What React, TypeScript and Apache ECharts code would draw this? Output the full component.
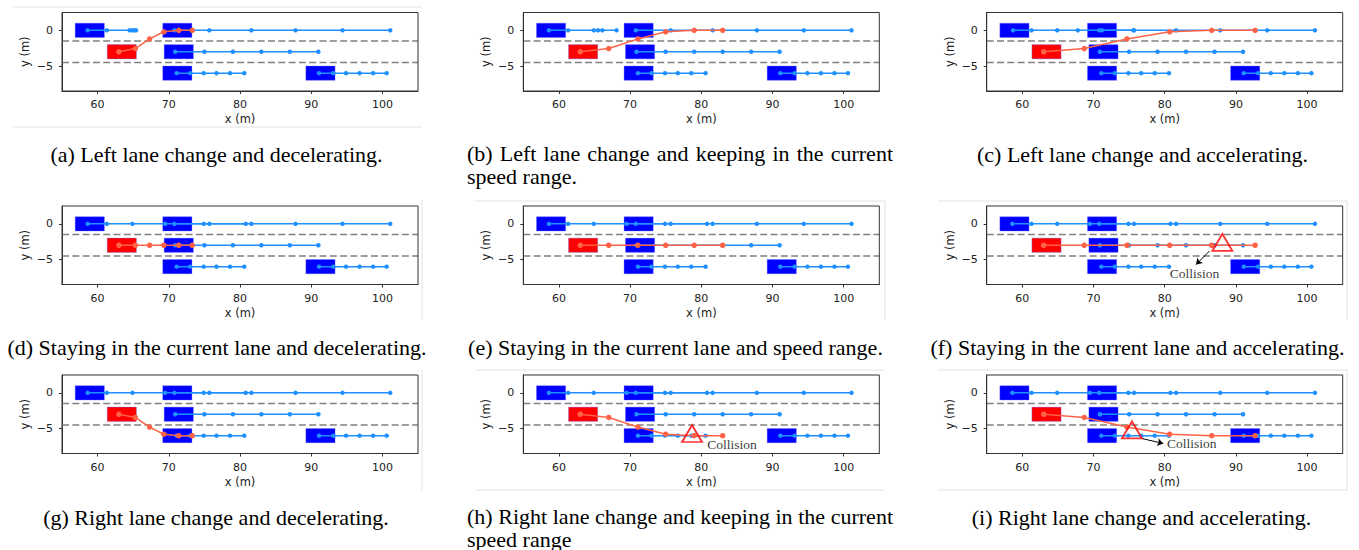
import React, { useEffect, useRef } from 'react';
import * as echarts from 'echarts';

// ---------- data ----------
const X_TICKS = [60, 70, 80, 90, 100];
const Y_TICKS = [0, -5];
const X_RANGE = [55, 105];
const Y_RANGE = [-8.5, 2.5];
const LANE_DIVIDERS = [-1.5, -4.5];

// surrounding vehicles: lane (y) and box centre (x)
const CAR_LANES = [0, 0, -3, -6, -6];
const CAR_BOX_X = [58.9, 71.2, 71.4, 71.2, 91.3];
const EGO_BOX = [63.4, -3];

// trajectories of the surrounding vehicles (x, m)
const CAR1_X_LEFT_DECEL = [58.6, 61.3, 64.5, 64.9, 65.2, 65.4];
const CAR1_X_LEFT_KEEP = [58.6, 61.3, 64.9, 65.5, 66.1, 68.1];
const CAR1_X_LEFT_ACCEL = [58.7, 61.3, 64.9, 67.8, 71.2, 75.6];
const CAR1_X_FREE = [58.6, 61.3, 64.9, 69.5, 74.9, 80.8];
const CAR2_X = [70.8, 75.7, 81.6, 87.8, 94.4, 101.1];
const CAR3_X = [70.9, 75.0, 79.0, 83.0, 87.0, 91.0];
const CAR4_X = [71.1, 73.0, 74.9, 76.7, 78.6, 80.6];
const CAR5_X = [91.1, 93.1, 94.9, 96.8, 98.7, 100.6];

// ego vehicle trajectories
const EGO_X_DECEL = [63.0, 65.3, 67.3, 69.3, 71.4, 73.3];
const EGO_X_KEEP = [63.0, 67.0, 71.1, 75.0, 79.0, 83.0];
const EGO_X_ACCEL = [63.0, 68.7, 74.7, 80.7, 86.6, 92.7];
const EGO_Y_LEFT = [-3, -2.55, -1.2, -0.2, 0, 0];
const EGO_Y_STAY = [-3, -3, -3, -3, -3, -3];
const EGO_Y_RIGHT = [-3, -3.45, -4.8, -5.8, -6, -6];

// collisions
const COLLISION_TEXT = 'Collision';
const COLLISION_F = [88.1, -2.6];
const COLLISION_H = [78.7, -5.7];
const COLLISION_I = [75.4, -5.2];
const LABEL_F = [84.2, -7.0];
const LABEL_H = [84.3, -7.2];
const LABEL_I = [83.8, -7.15];
const ARROW_F = [[86.3, -3.8], [84.4, -5.7]];
const ARROW_I = [[76.8, -6.4], [79.8, -7.1]];

const CAPTIONS = [
  '(a) Left lane change and decelerating.',
  '(b) Left lane change and keeping in the current speed range.',
  '(c) Left lane change and accelerating.',
  '(d) Staying in the current lane and decelerating.',
  '(e) Staying in the current lane and speed range.',
  '(f) Staying in the current lane and accelerating.',
  '(g) Right lane change and decelerating.',
  '(h) Right lane change and keeping in the current speed range',
  '(i) Right lane change and accelerating.',
];

type Panel = {
  car1: number[];
  egoX: number[];
  egoY: number[];
  collision?: number[];
  label?: number[];
  arrow?: number[][];
};

const PANELS: Panel[] = [
  { car1: CAR1_X_LEFT_DECEL, egoX: EGO_X_DECEL, egoY: EGO_Y_LEFT },
  { car1: CAR1_X_LEFT_KEEP, egoX: EGO_X_KEEP, egoY: EGO_Y_LEFT },
  { car1: CAR1_X_LEFT_ACCEL, egoX: EGO_X_ACCEL, egoY: EGO_Y_LEFT },
  { car1: CAR1_X_FREE, egoX: EGO_X_DECEL, egoY: EGO_Y_STAY },
  { car1: CAR1_X_FREE, egoX: EGO_X_KEEP, egoY: EGO_Y_STAY },
  { car1: CAR1_X_FREE, egoX: EGO_X_ACCEL, egoY: EGO_Y_STAY, collision: COLLISION_F, label: LABEL_F, arrow: ARROW_F },
  { car1: CAR1_X_FREE, egoX: EGO_X_DECEL, egoY: EGO_Y_RIGHT },
  { car1: CAR1_X_FREE, egoX: EGO_X_KEEP, egoY: EGO_Y_RIGHT, collision: COLLISION_H, label: LABEL_H },
  { car1: CAR1_X_FREE, egoX: EGO_X_ACCEL, egoY: EGO_Y_RIGHT, collision: COLLISION_I, label: LABEL_I, arrow: ARROW_I },
];

// ---------- layout / style ----------
const GRID_LEFT = [62, 523.3, 986.7];
const GRID_TOP = [12.5, 206, 375];
const GRID_W = 356;
const GRID_H = 78.5;
const CAR_LEN = 4.1;
const CAR_WID = 2.0;
const AXIS_FONT = 'DejaVu Sans';
const SERIF = 'Liberation Serif';
const CAPTION_SIZE = 22;
const CAPTION_LINE_H = 20;

const CAPTION_LAYOUT = [
  { cx: 216.5, cy: 154 },
  { left: 467, right: 893, cy: 153, gap: 23.5, breakAfter: 9 },
  { cx: 1142.5, cy: 154 },
  { cx: 217, cy: 347 },
  { cx: 675.5, cy: 347 },
  { cx: 1137.5, cy: 347 },
  { cx: 216, cy: 517 },
  { left: 467, right: 893, cy: 516.5, gap: 22.5, breakAfter: 9 },
  { cx: 1141.5, cy: 517 },
];

const FRAME_LINES = [
  [13, 7, 422, 7], [13, 127, 422, 127],
  [422, 200, 422, 320],
  [475, 201, 885, 201], [885, 201, 885, 320],
  [938, 201, 1347, 201], [1347, 201, 1347, 320],
  [422, 370, 422, 491],
  [475, 370, 885, 370], [475, 490, 885, 490],
  [938, 370, 1347, 370], [1347, 370, 1347, 490], [938, 490, 1347, 490],
];

function measure(text: string, font: string): number {
  const c = document.createElement('canvas').getContext('2d');
  if (!c) return text.length * 9;
  c.font = font;
  return c.measureText(text).width;
}

function boxRenderer(color: string) {
  return (params: any, api: any) => {
    const cx = api.value(0);
    const cy = api.value(1);
    const p = api.coord([cx - CAR_LEN / 2, cy + CAR_WID / 2]);
    const s = api.size([CAR_LEN, CAR_WID]);
    return {
      type: 'rect',
      shape: { x: p[0], y: p[1], width: s[0], height: s[1] },
      style: { fill: color, stroke: 'rgba(110,110,255,0.6)', lineWidth: 0.6 },
    };
  };
}

function captionStyle(text: string, align: string) {
  return {
    text, fontFamily: SERIF, fontSize: CAPTION_SIZE, lineHeight: CAPTION_LINE_H,
    fill: '#000', align, verticalAlign: 'middle',
  };
}

function buildOption() {
  const grid: any[] = [];
  const xAxis: any[] = [];
  const yAxis: any[] = [];
  const series: any[] = [];
  const graphic: any[] = [];

  PANELS.forEach((p, i) => {
    const col = i % 3;
    const row = Math.floor(i / 3);
    grid.push({
      left: GRID_LEFT[col], top: GRID_TOP[row], width: GRID_W, height: GRID_H,
      show: true, borderColor: '#333', borderWidth: 1, backgroundColor: 'transparent', z: 10,
    });
    const labelStyle = { fontFamily: AXIS_FONT, fontSize: 11, color: '#222' };
    xAxis.push({
      gridIndex: i, type: 'value', min: X_RANGE[0], max: X_RANGE[1],
      name: 'x (m)', nameLocation: 'middle', nameGap: 22, nameTextStyle: { ...labelStyle, fontSize: 11.5 },
      axisLine: { show: true, onZero: false, lineStyle: { color: '#333' } },
      axisTick: { show: true, length: 3, inside: false, customValues: X_TICKS, lineStyle: { color: '#333' } },
      axisLabel: { ...labelStyle, margin: 8, customValues: X_TICKS },
      splitLine: { show: false },
    });
    yAxis.push({
      gridIndex: i, type: 'value', min: Y_RANGE[0], max: Y_RANGE[1],
      name: 'y (m)', nameLocation: 'middle', nameGap: 31, nameTextStyle: { ...labelStyle, fontSize: 11.5 },
      axisLine: { show: true, onZero: false, lineStyle: { color: '#333' } },
      axisTick: { show: true, length: 3, inside: false, customValues: Y_TICKS, lineStyle: { color: '#333' } },
      axisLabel: {
        ...labelStyle, margin: 9, customValues: Y_TICKS,
        formatter: (v: number) => (v < 0 ? '\u2212' + Math.abs(v) : String(v)),
      },
      splitLine: { show: false },
    });

    const ax = { xAxisIndex: i, yAxisIndex: i, silent: true };

    LANE_DIVIDERS.forEach((d) => {
      series.push({
        ...ax, type: 'line', z: 1,
        data: [[X_RANGE[0], d], [X_RANGE[1], d]],
        symbol: 'none',
        lineStyle: { color: '#808080', width: 1.5, type: [7, 3.3] },
      });
    });

    series.push({
      ...ax, type: 'custom', z: 2,
      data: CAR_BOX_X.map((x, k) => [x, CAR_LANES[k]]),
      encode: { x: 0, y: 1 },
      renderItem: boxRenderer('#0000ff'),
    });
    series.push({
      ...ax, type: 'custom', z: 2,
      data: [EGO_BOX],
      encode: { x: 0, y: 1 },
      renderItem: boxRenderer('#ff0000'),
    });

    const trajs = [p.car1, CAR2_X, CAR3_X, CAR4_X, CAR5_X];
    trajs.forEach((xs, k) => {
      series.push({
        ...ax, type: 'line', z: 3,
        data: xs.map((x) => [x, CAR_LANES[k]]),
        symbol: 'circle', symbolSize: 4.5, showSymbol: true,
        lineStyle: { color: '#1e90ff', width: 1.5 },
        itemStyle: { color: '#1e90ff' },
      });
    });

    series.push({
      ...ax, type: 'line', z: 4,
      data: p.egoX.map((x, k) => [x, p.egoY[k]]),
      symbol: 'circle', symbolSize: 5.5, showSymbol: true,
      lineStyle: { color: '#ff6347', width: 1.5 },
      itemStyle: { color: '#ff6347' },
    });

    if (p.collision) {
      series.push({
        ...ax, type: 'scatter', z: 5,
        data: [p.collision],
        symbol: 'triangle', symbolSize: [20, 17],
        itemStyle: { color: 'rgba(0,0,0,0)', borderColor: '#ff0000', borderWidth: 1.8 },
      });
    }
    if (p.arrow) {
      series.push({
        ...ax, type: 'lines', coordinateSystem: 'cartesian2d', z: 5,
        data: [{ coords: p.arrow }],
        symbol: ['none', 'arrow'], symbolSize: 6,
        lineStyle: { color: '#000', width: 1, opacity: 1 },
      });
    }
    if (p.label) {
      series.push({
        ...ax, type: 'scatter', z: 6,
        data: [p.label],
        symbolSize: 1,
        itemStyle: { color: 'rgba(0,0,0,0)' },
        label: {
          show: true, position: 'inside', formatter: COLLISION_TEXT,
          fontFamily: SERIF, fontSize: 13.5, color: '#000',
        },
      });
    }
  });

  // captions
  const capFont = `${CAPTION_SIZE}px "${SERIF}"`;
  CAPTIONS.forEach((text, i) => {
    const L: any = CAPTION_LAYOUT[i];
    if (L.breakAfter) {
      const words = text.split(' ');
      const first = words.slice(0, L.breakAfter);
      const rest = words.slice(L.breakAfter).join(' ');
      const widths = first.map((w) => measure(w, capFont));
      const total = widths.reduce((a, b) => a + b, 0);
      const gap = (L.right - L.left - total) / (first.length - 1);
      let x = L.left;
      first.forEach((w, k) => {
        graphic.push({ type: 'text', x, y: L.cy, silent: true, style: captionStyle(w, 'left') });
        x += widths[k] + gap;
      });
      graphic.push({ type: 'text', x: L.left, y: L.cy + L.gap, silent: true, style: captionStyle(rest, 'left') });
    } else {
      graphic.push({ type: 'text', x: L.cx, y: L.cy, silent: true, style: captionStyle(text, 'center') });
    }
  });

  FRAME_LINES.forEach(([x1, y1, x2, y2]) => {
    graphic.push({
      type: 'line', silent: true,
      shape: { x1, y1, x2, y2 },
      style: { stroke: '#e2e2e2', lineWidth: 1 },
    });
  });

  return {
    animation: false,
    backgroundColor: '#fff',
    grid, xAxis, yAxis, series, graphic,
  };
}

export default function App() {
  const ref = useRef<HTMLDivElement>(null);
  useEffect(() => {
    if (!ref.current) return;
    const chart = echarts.init(ref.current, null, { renderer: 'svg' });
    chart.setOption(buildOption() as any);
    return () => chart.dispose();
  }, []);
  return (
    <div
      ref={ref}
      style={{ position: 'absolute', left: 0, top: 0, width: 1359, height: 550, background: '#fff' }}
    />
  );
}
